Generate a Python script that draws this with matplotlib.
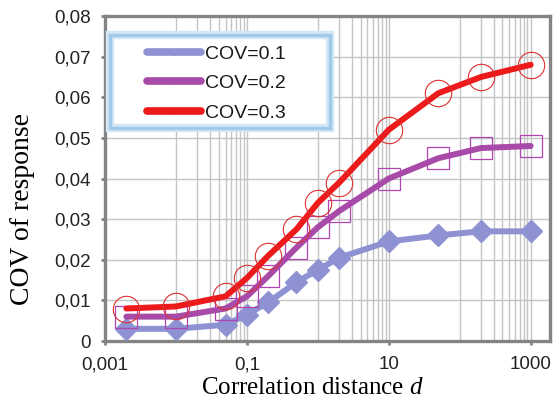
import matplotlib
matplotlib.use("Agg")
import matplotlib.pyplot as plt
from matplotlib.lines import Line2D
from matplotlib.patches import Rectangle
from matplotlib.ticker import FixedLocator, NullFormatter

plt.rcParams['font.family'] = ['Liberation Sans', 'DejaVu Sans']
plt.rcParams['mathtext.fontset'] = 'custom'
plt.rcParams['mathtext.it'] = 'Liberation Serif:italic'
plt.rcParams['mathtext.rm'] = 'Liberation Serif'

# correlation distance d (log axis) and COV of response per input COV
d = [0.002, 0.01, 0.05, 0.1, 0.2, 0.5, 1, 2, 10, 50, 200, 1000]
cov_01 = [0.003, 0.003, 0.004, 0.0065, 0.0095, 0.0145, 0.0175, 0.0205, 0.0245, 0.026, 0.027, 0.027]
cov_02 = [0.006, 0.006, 0.008, 0.011, 0.016, 0.023, 0.028, 0.032, 0.040, 0.045, 0.0475, 0.048]
cov_03 = [0.008, 0.0085, 0.011, 0.0155, 0.021, 0.0275, 0.034, 0.039, 0.052, 0.061, 0.065, 0.068]
labels = ['COV=0.1', 'COV=0.2', 'COV=0.3']

x_ticks = [0.001, 0.1, 10, 1000]
x_ticklabels = ['0,001', '0,1', '10', '1000']
y_ticks = [0, 0.01, 0.02, 0.03, 0.04, 0.05, 0.06, 0.07, 0.08]
y_ticklabels = ['0', '0,01', '0,02', '0,03', '0,04', '0,05', '0,06', '0,07', '0,08']

c1, c2, c3 = '#8e91d2', '#a84aa8', '#ec1a1a'
spine_col = '#848484'

fig = plt.figure(figsize=(5.6, 4.01), dpi=100)
ax = fig.add_axes([0.1875, 0.1496, 0.7946, 0.8105])

ax.plot(d, cov_01, color=c1, lw=4.3, marker='D', ms=11, mfc=c1, mec=c1,
        solid_capstyle='round', solid_joinstyle='round', zorder=3)
ax.plot(d, cov_02, color=c2, lw=4.3, marker='s', ms=16, mfc='none', mec='#b044b0', mew=0.9,
        solid_capstyle='round', solid_joinstyle='round', zorder=4)
ax.plot(d, cov_03, color=c3, lw=4.3, marker='o', ms=19, mfc='none', mec='#dd3030', mew=0.8,
        solid_capstyle='round', solid_joinstyle='round', zorder=5)

ax.set_xscale('log')
ax.set_xlim(0.001, 1870)
ax.set_ylim(0, 0.08)

# gridlines the way the original spreadsheet drew them
grid_x = ([m * 0.01 for m in range(1, 10)] + [0.1] + [m * 1.0 for m in range(1, 10)]
          + [10] + [m * 100.0 for m in range(1, 10)] + [1000])
ax.xaxis.set_major_locator(FixedLocator(x_ticks))
ax.xaxis.set_minor_locator(FixedLocator(grid_x))
ax.xaxis.set_minor_formatter(NullFormatter())
ax.set_xticklabels(x_ticklabels)
ax.set_yticks(y_ticks)
ax.set_yticklabels(y_ticklabels)
ax.grid(True, which='both', axis='x', color='#c4c4c4', lw=1.0, zorder=0)
ax.grid(True, which='major', axis='y', color='#c4c4c4', lw=1.0, zorder=0)
ax.set_axisbelow(True)

ax.tick_params(which='major', length=3, width=2, color=spine_col, labelsize=13.5,
               labelcolor='#222222')
ax.tick_params(axis='x', pad=8)
ax.tick_params(axis='y', pad=7)
ax.tick_params(which='minor', length=0)
for s in ax.spines.values():
    s.set_color(spine_col)
    s.set_linewidth(2.4)

ax.set_xlabel('Correlation distance $d$', family='Liberation Serif', fontsize=18, va='top')
ax.xaxis.set_label_coords(0.465, -0.112)
ax.set_ylabel('COV of response', family='Liberation Serif', fontsize=20)
ax.yaxis.set_label_coords(-0.157, 0.405)

# legend box with the soft blue border
ax.add_patch(Rectangle((0.0112, 0.6554), 0.4944, 0.2861, transform=ax.transAxes,
                       facecolor='white', edgecolor='#d4e7f6', lw=6, zorder=9, clip_on=False))
ax.add_patch(Rectangle((0.0112, 0.6554), 0.4944, 0.2861, transform=ax.transAxes,
                       facecolor='none', edgecolor='#9fcaea', lw=2.5, zorder=9, clip_on=False))

handles = [Line2D([], [], color=c1, lw=5.5, marker='D', ms=3, solid_capstyle='round'),
           Line2D([], [], color=c2, lw=5.5, marker='s', ms=3, solid_capstyle='round'),
           Line2D([], [], color=c3, lw=5.5, marker='o', ms=3, solid_capstyle='round')]
leg = ax.legend(handles, labels, loc='upper left', bbox_to_anchor=(0.0944, 0.911),
                borderaxespad=0, borderpad=0, fontsize=14, handlelength=2.8,
                handletextpad=0.2, labelspacing=0.62, frameon=False)
leg.set_zorder(10)
for t in leg.get_texts():
    t.set_color('#1a1a1a')

fig.savefig('out.png', dpi=100)
